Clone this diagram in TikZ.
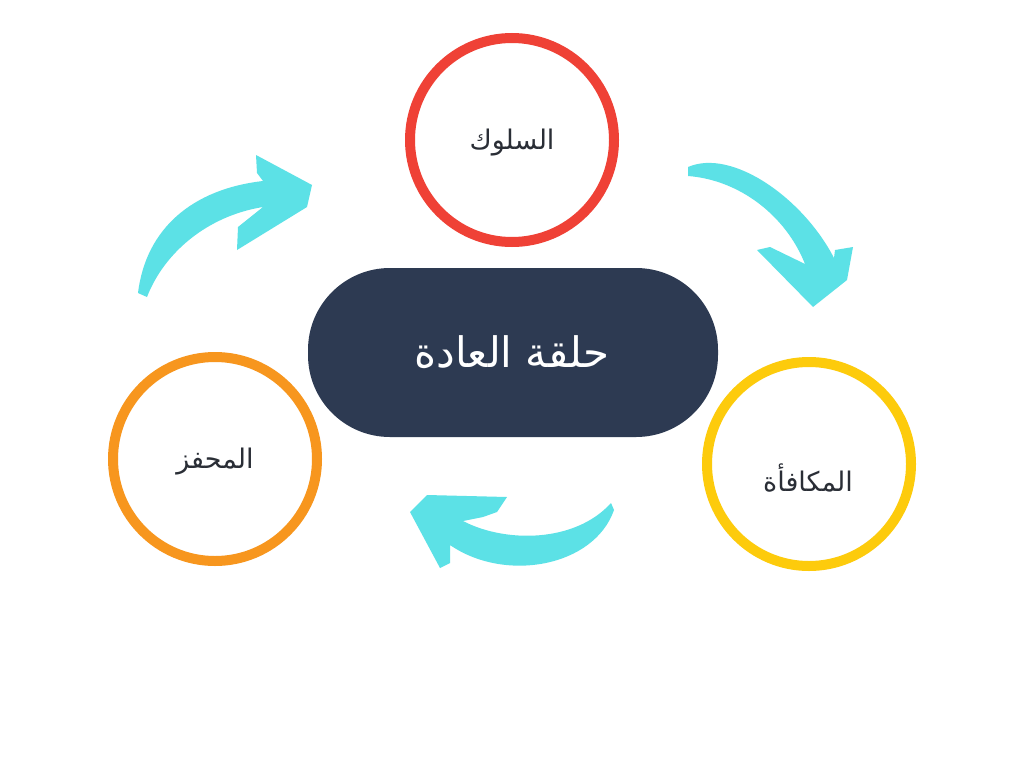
\documentclass[tikz,border=0pt]{standalone}
\usepackage{fontspec}
\TeXXeTstate=1
\newfontfamily\arabicfont[Script=Arabic]{DejaVu Sans}
\definecolor{cred}{HTML}{EF4136}
\definecolor{corange}{HTML}{F7961E}
\definecolor{cyellow}{HTML}{FDCB0C}
\definecolor{cdark}{HTML}{2D3A52}
\definecolor{ccyan}{HTML}{5CE1E6}
\definecolor{ctext}{HTML}{2A2E36}
\tikzset{
  ring/.style={circle, draw=#1, line width=10pt, minimum size=204pt, inner sep=0pt},
  lbl/.style={font=\arabicfont\fontsize{27}{31}\selectfont, text=ctext, inner sep=0pt},
  pill/.style={fill=cdark, rounded corners=82pt},
  bigarrow/.style={fill=ccyan, draw=none}
}
\begin{document}
\begin{tikzpicture}[x=1pt,y=-1pt]
\useasboundingbox[fill=white] (0,0) rectangle (1024,768);
% rings
\node[ring=cred] (beh) at (512,140) {};
\node[ring=corange] (trig) at (215,459) {};
\node[ring=cyellow] (rew) at (809,464) {};
\node[lbl] (behT) at (512,143) {\beginR السلوك\endR};
\node[lbl] (trigT) at (215,462) {\beginR المحفز\endR};
\node[lbl] (rewT) at (808,478) {\beginR المكافأة\endR};
% central pill
\fill[pill] (308,268) rectangle (718,437);
\node[font=\arabicfont\fontsize{42}{48}\selectfont, text=white, inner sep=0pt] (habit) at (512,352) {\beginR حلقة العادة\endR};
% arrows
\fill[bigarrow] (138,293) .. controls (146,228) and (193,189) .. (263,181) -- (257,173) -- (256,155) -- (312,185) -- (307,207) -- (237,250) -- (238,227) -- (263,207) .. controls (207,216) and (164,253) .. (147,297) -- cycle;
\fill[bigarrow] (688,167) .. controls (732,148) and (803,198) .. (834,258) -- (835,250) -- (853,247) -- (847,280) -- (813,307) -- (757,250) -- (770,247) -- (805,264) .. controls (786,216) and (740,180) .. (688,176) -- cycle;
\fill[bigarrow] (611,503) .. controls (575,543) and (505,543) .. (463,521) -- (483,517) -- (497,512) -- (507,497) -- (427,495) -- (410,512) -- (440,568) -- (450,563) -- (450,545) .. controls (505,583) and (594,567) .. (614,510) -- cycle;
\end{tikzpicture}
\end{document}
